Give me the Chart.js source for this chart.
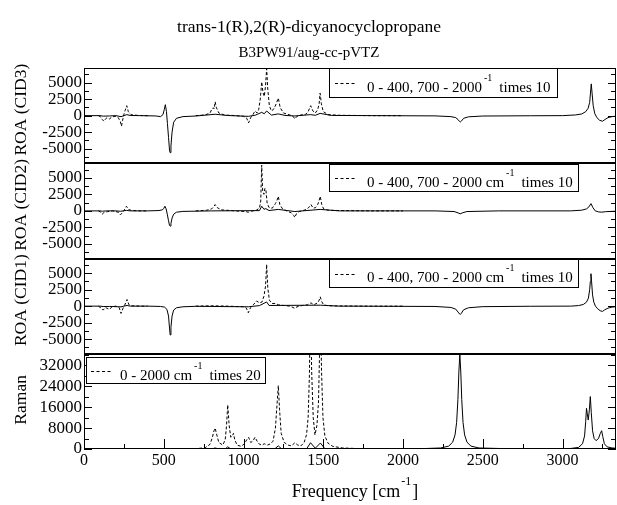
<!DOCTYPE html>
<html><head><meta charset="utf-8">
<script src="https://cdn.jsdelivr.net/npm/chart.js@4/dist/chart.umd.min.js"></script>
<style>html,body{margin:0;padding:0;background:#fff;}canvas{display:block;}</style>
</head><body>
<canvas id="c" width="617" height="505"></canvas>
<script>
// ---------- tick labels ----------
const xTicks = [0, 500, 1000, 1500, 2000, 2500, 3000];
const roaTicks = [-5000, -2500, 0, 2500, 5000];
const ramanTicks = [0, 8000, 16000, 24000, 32000];
const panelTitles = ['ROA (CID3)', 'ROA (CID2)', 'ROA (CID1)', 'Raman'];

// ---------- ROA (CID3) ----------
const cid3X = [0,100,120,160,200,232,250,268,290,350,450,480,495,503,510,517,523,530,536,540,545,552,562,580,620,700,822,900,1030,1075,1114,1130,1145,1175,1218,1260,1322,1420,1450,1480,1550,1800,2200,2300,2330,2345,2355,2360,2365,2380,2410,2500,2800,3000,3080,3120,3145,3160,3170,3175,3180,3185,3192,3202,3215,3232,3250,3265,3285,3310,3335];
const cid3Y = [0,0,-80,-50,0,-160,0,150,20,0,-50,-150,150,900,1650,600,-1200,-3300,-5200,-5600,-4600,-2500,-1000,-400,-150,-60,210,20,-110,70,500,280,700,80,260,30,-50,150,50,340,30,0,-40,-150,-300,-600,-900,-950,-850,-400,-180,-60,-20,0,100,250,600,1100,2000,3400,4800,3400,1500,300,-300,-700,-850,-600,-300,-150,-80];
const cid3dX = [90,105,115,125,135,145,160,175,195,215,228,235,242,250,258,268,278,295,330,370,400,550,700,760,790,800,810,816,822,830,845,880,950,1000,1020,1032,1045,1060,1072,1085,1095,1105,1114,1122,1130,1138,1145,1152,1162,1175,1190,1205,1218,1230,1250,1290,1310,1322,1335,1360,1390,1405,1421,1435,1450,1465,1474,1480,1488,1500,1530,1600,1800,2000];
const cid3dY = [0,-200,-600,-850,-500,-300,-500,-200,-100,-300,-900,-1600,-700,200,800,1500,600,150,50,0,0,null,0,100,400,900,1200,1000,2100,1200,400,100,0,-100,-400,-1100,-300,200,700,400,900,2500,5100,3500,2900,4500,7100,4000,1500,700,1000,1800,2650,1200,400,100,-100,-500,-100,100,200,600,1500,700,400,900,1800,3400,1800,600,150,50,0,0];

// ---------- ROA (CID2) ----------
const cid2X = [0,100,115,140,200,228,245,266,290,400,470,490,500,507,515,522,530,536,540,545,552,562,580,620,800,1100,1114,1128,1140,1160,1218,1322,1480,1600,2200,2320,2345,2358,2372,2400,2600,3050,3120,3150,3165,3178,3190,3205,3225,3245,3270,3335];
const cid2Y = [0,0,-50,0,0,-60,0,70,0,0,50,150,350,700,300,-500,-1500,-2200,-2300,-1900,-1100,-500,-200,-80,0,40,700,250,330,50,220,-100,220,0,0,-100,-300,-450,-300,-100,0,0,100,300,600,1100,500,0,-150,-200,-120,-50];
const cid2dX = [90,105,114,125,150,180,215,228,240,252,266,280,300,350,400,550,700,770,800,812,822,835,860,950,1010,1030,1050,1080,1100,1108,1114,1120,1128,1134,1140,1148,1160,1180,1200,1210,1218,1228,1245,1270,1300,1315,1322,1330,1350,1380,1400,1412,1423,1437,1452,1466,1474,1481,1490,1502,1530,1600,1800,2000];
const cid2dY = [0,-200,-500,-250,-100,0,-200,-600,-300,100,700,200,50,0,0,null,0,100,300,600,950,500,150,0,-100,-200,-50,100,400,1500,6900,3000,2500,3400,3200,1200,500,400,1100,1600,2200,900,300,0,-300,-700,-1000,-500,-100,100,300,600,950,400,500,1000,1600,2200,1000,300,100,50,0,0];

// ---------- ROA (CID1) ----------
const cid1X = [0,100,120,160,232,250,270,290,400,480,505,520,530,535,540,545,552,562,580,620,700,1030,1100,1145,1160,1482,1600,2200,2300,2330,2345,2355,2360,2365,2380,2410,2500,2800,3050,3100,3130,3150,3162,3170,3174,3178,3182,3188,3196,3206,3220,3236,3250,3265,3285,3310,3335];
const cid1Y = [0,0,-60,-50,-110,0,100,0,0,-50,-150,-500,-1500,-3000,-4350,-3200,-1500,-600,-250,-100,-30,-100,80,630,100,140,0,-50,-200,-450,-900,-1200,-1250,-1100,-550,-250,-80,-20,0,80,250,600,1200,2500,3700,4900,3700,1700,600,0,-400,-700,-800,-550,-300,-150,-80];
const cid1dX = [90,108,120,135,150,160,175,200,220,232,245,258,270,282,300,350,400,550,700,800,900,1000,1018,1030,1045,1065,1082,1100,1115,1128,1138,1145,1152,1162,1178,1200,1220,1250,1290,1310,1322,1335,1370,1400,1423,1440,1465,1474,1481,1490,1502,1530,1600,1800,2000];
const cid1dY = [0,-300,-600,-200,-400,-500,-100,0,-200,-1100,-300,300,1000,200,50,0,0,null,0,50,0,-100,-300,-1000,-200,300,780,500,600,1500,3000,6300,2800,900,400,400,200,100,0,-200,-350,-100,100,200,500,200,500,900,1400,700,200,50,30,0,0];

// ---------- Raman ----------
const ramX = [0,800,822,845,885,901,920,1195,1218,1240,1395,1420,1450,1482,1510,2100,2236,2286,2311,2326,2336,2344,2350,2356,2362,2368,2376,2386,2401,2426,2476,2600,2900,3050,3100,3125,3138,3145,3150,3155,3161,3168,3174,3180,3188,3198,3210,3225,3237,3245,3252,3262,3280,3310,3335];
const ramY = [0,0,400,0,0,850,0,0,1200,0,0,2400,300,2300,100,100,390,1100,2600,5400,10200,19000,29500,36300,29500,19000,10200,5400,2600,1100,390,200,100,200,600,2000,5000,10500,15600,13500,11100,15000,20100,14000,7000,4000,3200,4000,6000,7000,4800,2000,800,400,300];
const ramdX = [0,700,760,790,805,815,822,830,845,870,885,893,901,910,920,930,937,945,960,985,1005,1020,1032,1045,1058,1072,1085,1100,1115,1130,1150,1170,1185,1200,1210,1218,1226,1236,1255,1280,1300,1322,1340,1360,1380,1395,1405,1413,1420,1427,1437,1448,1460,1470,1476,1482,1489,1498,1510,1530,1560,1620,1700,1800,2000];
const ramdY = [0,100,500,1800,4500,7000,8000,6000,2500,1500,3500,8500,16900,9000,4500,5000,6000,3500,1500,1000,2000,3500,4500,2500,3000,4500,3000,1800,1500,2000,1500,2000,3000,8000,17000,24300,15000,6000,2500,1500,1200,2400,1500,1200,2500,5500,12000,28000,60000,30000,12000,5400,9000,18000,35000,55000,30000,12000,5000,2200,1000,400,200,100,50];

const SERIF = "'Liberation Serif', 'Times New Roman', serif";
function pts(xs, ys) { return xs.map((x, i) => ({ x: x, y: ys[i] })); }
const solid = { borderColor: '#000', borderWidth: 1, pointRadius: 0, fill: false, tension: 0, spanGaps: false };
const dashed = Object.assign({}, solid, { borderDash: [3, 2] });

const datasets = [
  Object.assign({}, solid, { label: 'CID3', yAxisID: 'y1', data: pts(cid3X, cid3Y) }),
  Object.assign({}, dashed, { label: 'CID3 x10', yAxisID: 'y1', data: pts(cid3dX, cid3dY) }),
  Object.assign({}, solid, { label: 'CID2', yAxisID: 'y2', data: pts(cid2X, cid2Y) }),
  Object.assign({}, dashed, { label: 'CID2 x10', yAxisID: 'y2', data: pts(cid2dX, cid2dY) }),
  Object.assign({}, solid, { label: 'CID1', yAxisID: 'y3', data: pts(cid1X, cid1Y) }),
  Object.assign({}, dashed, { label: 'CID1 x10', yAxisID: 'y3', data: pts(cid1dX, cid1dY) }),
  Object.assign({}, solid, { label: 'Raman', yAxisID: 'y4', data: pts(ramX, ramY) }),
  Object.assign({}, dashed, { label: 'Raman x20', yAxisID: 'y4', data: pts(ramdX, ramdY) })
];

function yScale(min, max, arr) {
  return {
    type: 'linear', position: 'left', stack: 'panels', stackWeight: 1, min: min, max: max,
    grid: { display: false, drawTicks: false }, border: { display: false },
    ticks: { font: { family: SERIF, size: 17 }, color: '#000', padding: 2, autoSkip: false, callback: v => String(v) },
    afterBuildTicks: s => { s.ticks = arr.map(v => ({ value: v })); },
    afterFit: s => { s.width = 84; }
  };
}

const legends = {
  y1: { box: [329, 68, 558, 98], sample: [335, 357], main: '0 - 400, 700 - 2000', tail: 'times 10', base: 92 },
  y2: { box: [329, 164, 579, 192], sample: [335, 357], main: '0 - 400, 700 - 2000 cm', tail: 'times 10', base: 187 },
  y3: { box: [329, 259, 579, 288], sample: [335, 357], main: '0 - 400, 700 - 2000 cm', tail: 'times 10', base: 282 },
  y4: { box: [86, 357, 266, 384], sample: [91, 112], main: '0 - 2000 cm', tail: 'times 20', base: 380 }
};
const legendStarts = { y1: 367, y2: 367, y3: 367, y4: 120 };

const deco = {
  id: 'deco',
  afterDraw(chart) {
    const ctx = chart.ctx;
    const xs = chart.scales.x;
    const L = Math.round(xs.left), R = Math.round(xs.right);
    const ids = ['y1', 'y2', 'y3', 'y4'];
    ctx.save();
    ctx.strokeStyle = '#000'; ctx.fillStyle = '#000'; ctx.lineWidth = 1;
    const line = (x1, y1, x2, y2) => { ctx.beginPath(); ctx.moveTo(x1, y1); ctx.lineTo(x2, y2); ctx.stroke(); };
    let top = Infinity, bottom = -Infinity;
    ids.forEach(id => {
      const s = chart.scales[id];
      top = Math.min(top, s.top); bottom = Math.max(bottom, s.bottom);
      const majors = id === 'y4' ? ramanTicks : roaTicks;
      const step = majors[1] - majors[0];
      const marks = majors.map(v => [v, 8]);
      for (let v = majors[0] - step / 2; v < s.max; v += step) if (v > s.min) marks.push([v, 5]);
      marks.forEach(m => {
        const y = Math.round(s.getPixelForValue(m[0])) + 0.5;
        line(L, y, L + m[1], y);
        line(R, y, R - m[1], y);
      });
    });
    // x ticks on bottom axis
    const xmarks = xTicks.map(v => [v, 10]);
    for (let i = 0; i < xTicks.length; i++) {
      const v = xTicks[i] + (xTicks[1] - xTicks[0]) / 2;
      if (v < xs.max) xmarks.push([v, 5]);
    }
    const B = Math.round(bottom);
    xmarks.forEach(m => {
      const x = Math.round(xs.getPixelForValue(m[0])) + 0.5;
      line(x, B, x, B - m[1]);
    });
    // frame
    ctx.strokeRect(L + 0.5, Math.round(top) + 0.5, R - L - 1, B - Math.round(top) - 1);
    ['y2', 'y3', 'y4'].forEach(id => {
      const yb = Math.round(chart.scales[id].top);
      ctx.fillRect(L, yb - 1, R - L, 2);
    });
    // legends
    ids.forEach(id => {
      const lg = legends[id];
      const [x1, y1, x2, y2] = lg.box;
      ctx.fillStyle = '#fff';
      ctx.fillRect(x1, y1, x2 - x1, y2 - y1);
      ctx.fillStyle = '#000';
      ctx.strokeRect(x1 + 0.5, y1 + 0.5, x2 - x1 - 1, y2 - y1 - 1);
      const ym = Math.round((y1 + y2) / 2) + 0.5;
      ctx.setLineDash([3, 2.5]);
      line(lg.sample[0], ym, lg.sample[1], ym);
      ctx.setLineDash([]);
      ctx.textBaseline = 'alphabetic'; ctx.textAlign = 'left';
      ctx.font = '15px ' + SERIF;
      let x = legendStarts[id];
      ctx.fillText(lg.main, x, lg.base);
      x += ctx.measureText(lg.main).width + 2;
      ctx.font = '10px ' + SERIF;
      ctx.fillText('-1', x, lg.base - 11);
      x += ctx.measureText('-1').width + 7;
      ctx.font = '15px ' + SERIF;
      ctx.fillText(lg.tail, x, lg.base);
    });
    // y titles
    ctx.font = '17.5px ' + SERIF;
    ctx.textAlign = 'center'; ctx.textBaseline = 'alphabetic';
    ids.forEach((id, k) => {
      const s = chart.scales[id];
      const cy = (s.top + s.bottom) / 2 + (id === 'y4' ? -1.5 : -6);
      ctx.save();
      ctx.translate(25.5, cy);
      ctx.rotate(-Math.PI / 2);
      ctx.fillText(panelTitles[k], 0, 0);
      ctx.restore();
    });
    // main titles
    ctx.textAlign = 'center';
    ctx.font = '17.5px ' + SERIF;
    ctx.fillText('trans-1(R),2(R)-dicyanocyclopropane', 309, 32);
    ctx.font = '15px ' + SERIF;
    ctx.fillText('B3PW91/aug-cc-pVTZ', 309, 57);
    // x title with superscript
    ctx.textAlign = 'left';
    ctx.font = '18px ' + SERIF;
    const t1 = 'Frequency [cm', t3 = ']';
    ctx.font = '12px ' + SERIF; const w2 = ctx.measureText('-1').width;
    ctx.font = '18px ' + SERIF;
    const w1 = ctx.measureText(t1).width, w3 = ctx.measureText(t3).width;
    const total = w1 + 1 + w2 + 1 + w3;
    let xx = (L + R) / 2 - total / 2 + 5;
    ctx.fillText(t1, xx, 497); xx += w1 + 1;
    ctx.font = '12px ' + SERIF; ctx.fillText('-1', xx, 485); xx += w2 + 1;
    ctx.font = '18px ' + SERIF; ctx.fillText(t3, xx, 497);
    ctx.restore();
  }
};

new Chart(document.getElementById('c'), {
  type: 'line',
  data: { datasets: datasets },
  options: {
    responsive: false, animation: false, events: [],
    layout: { padding: { top: 68, right: 1, bottom: 0, left: 0 } },
    plugins: { legend: { display: false }, tooltip: { enabled: false }, title: { display: false } },
    scales: {
      x: {
        type: 'linear', position: 'bottom', min: 0, max: 3335,
        grid: { display: false, drawTicks: false }, border: { display: false },
        ticks: { font: { family: SERIF, size: 16 }, color: '#000', padding: 2, autoSkip: false, maxRotation: 0, callback: v => String(v) },
        afterBuildTicks: s => { s.ticks = xTicks.map(v => ({ value: v })); },
        afterFit: s => { s.height = 56; }
      },
      y4: yScale(0, 36500, ramanTicks),
      y3: yScale(-7200, 7200, roaTicks),
      y2: yScale(-7200, 7200, roaTicks),
      y1: yScale(-7200, 7200, roaTicks)
    }
  },
  plugins: [deco]
});
</script>
</body></html>
